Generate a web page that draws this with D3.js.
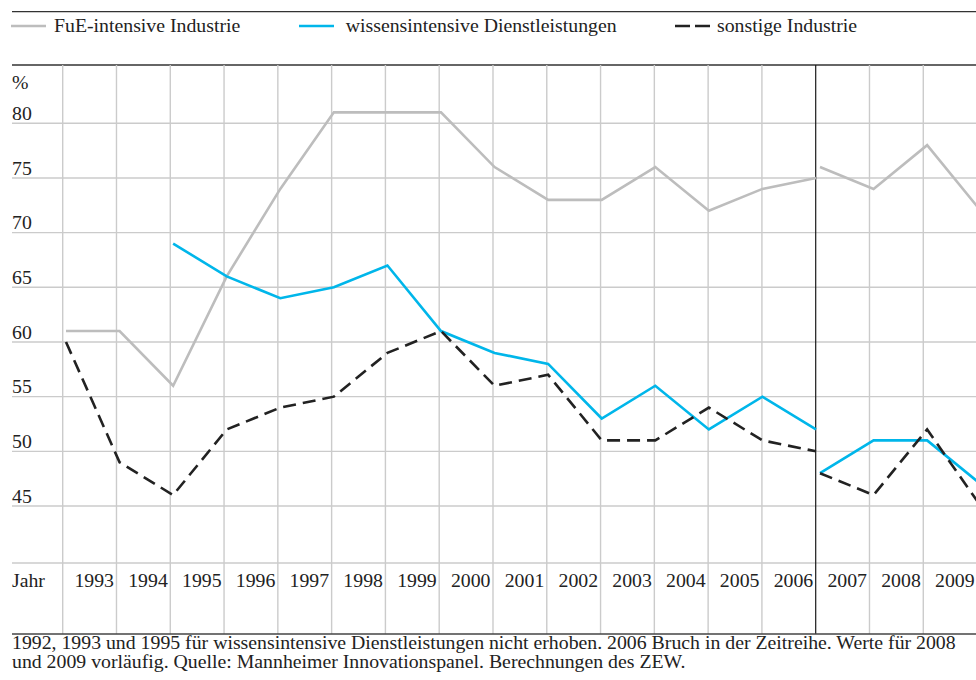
<!DOCTYPE html>
<html><head><meta charset="utf-8">
<script src="https://cdn.jsdelivr.net/npm/d3@7"></script>
<style>
html,body{margin:0;padding:0;background:#fff;}
svg{display:block;}
text{font-family:"Liberation Serif","Times New Roman",serif;fill:#222;}
</style></head>
<body>
<svg id="chart" width="976" height="680"></svg>
<script>
// ---- data ----
const years = [1992,1993,1994,1995,1996,1997,1998,1999,2000,2001,2002,2003,2004,2005,2006];
const yearsNew = [2006,2007,2008,2009];
const yearLabels = [1993,1994,1995,1996,1997,1998,1999,2000,2001,2002,2003,2004,2005,2006,2007,2008,2009];
const yTicks = [45,50,55,60,65,70,75,80];
const fueOld = [61,61,56,66,74,81,81,81,76,73,73,76,72,74,75];
const fueNew = [76,74,78,72];
const wissOld = [null,null,69,66,64,65,67,61,59,58,53,56,52,55,52];
const wissNew = [48,51,51,47];
const sonstOld = [60,49,46,52,54,55,59,61,56,57,51,51,54,51,50];
const sonstNew = [48,46,52,45];
const seriesNames = ["FuE-intensive Industrie","wissensintensive Dienstleistungen","sonstige Industrie"];
const footnote = ["1992, 1993 und 1995 für wissensintensive Dienstleistungen nicht erhoben. 2006 Bruch in der Zeitreihe. Werte für 2008",
                  "und 2009 vorläufig. Quelle: Mannheimer Innovationspanel. Berechnungen des ZEW."];

// ---- layout ----
const svg = d3.select("#chart");
const FS = 18, SX = 1.1;
const L = 12, R = 976, plotTop = 65, rowTop = 563, rowBottom = 634;
const gridX = d3.scaleLinear().domain([1992,2006]).range([62.7,815.7]);
const ptX = d3.scaleLinear().domain([1992,2006]).range([66,816]);
const y = d3.scaleLinear().domain([45,80]).range([506,123.3]);
const breakYear = 2006;
const gridColor = "#cbcbcb";

function addText(x, yy, str, anchor){
  return svg.append("text")
    .attr("transform",`translate(${x},${yy}) scale(${SX},1)`)
    .attr("font-size",FS).attr("text-anchor",anchor||"start").text(str);
}

// top rules
svg.append("line").attr("x1",L).attr("x2",R).attr("y1",11.7).attr("y2",11.7).attr("stroke","#333").attr("stroke-width",1.3);
svg.append("line").attr("x1",L).attr("x2",R).attr("y1",plotTop).attr("y2",plotTop).attr("stroke","#333").attr("stroke-width",1.3);

// legend
const colors = ["#bdbdbd","#00b6ea","#222"];
const legX = [11,299,675];
const legTextX = [54,345.7,717];
seriesNames.forEach((n,i)=>{
  const ln = svg.append("line").attr("x1",legX[i]).attr("x2",legX[i]+35).attr("y1",26).attr("y2",26)
    .attr("stroke",colors[i]).attr("stroke-width",2.6);
  if(i===2) ln.attr("stroke-dasharray","15,5");
  addText(legTextX[i],31.5,n);
});

// horizontal grid
yTicks.forEach(t=>{
  svg.append("line").attr("x1",L).attr("x2",R).attr("y1",y(t)).attr("y2",y(t)).attr("stroke",gridColor).attr("stroke-width",1.4);
  addText(L,y(t)-3.3,t);
});
addText(L,89,"%");
svg.append("line").attr("x1",L).attr("x2",R).attr("y1",rowTop).attr("y2",rowTop).attr("stroke",gridColor).attr("stroke-width",1.4);

// vertical grid
d3.range(1992,2011).forEach(yr=>{
  if(yr===breakYear) return;
  svg.append("line").attr("x1",gridX(yr)).attr("x2",gridX(yr)).attr("y1",plotTop).attr("y2",rowBottom)
    .attr("stroke",gridColor).attr("stroke-width",1.4);
});
svg.append("line").attr("x1",gridX(breakYear)).attr("x2",gridX(breakYear)).attr("y1",plotTop).attr("y2",rowBottom)
  .attr("stroke","#1a1a1a").attr("stroke-width",1.2);
svg.append("line").attr("x1",L).attr("x2",R).attr("y1",rowBottom).attr("y2",rowBottom).attr("stroke","#444").attr("stroke-width",1.4);

// year row
addText(L,587,"Jahr");
yearLabels.forEach(yr=>{
  addText(gridX(yr) - 2.5, 587, yr, "end");
});

// lines
const lineOld = d3.line().defined(d=>d[1]!=null).x(d=>ptX(d[0])).y(d=>y(d[1]));
const lineNew = d3.line().x(d=>ptX(d[0])+4).y(d=>y(d[1]));
const groups = [[fueOld,fueNew],[wissOld,wissNew],[sonstOld,sonstNew]];
groups.forEach((g,i)=>{
  const a = years.map((yr,k)=>[yr,g[0][k]]);
  const b = yearsNew.map((yr,k)=>[yr,g[1][k]]);
  [svg.append("path").attr("d",lineOld(a)), svg.append("path").attr("d",lineNew(b))].forEach(p=>{
    p.attr("fill","none").attr("stroke",colors[i]).attr("stroke-width",2.6).attr("stroke-linejoin","miter");
    if(i===2) p.attr("stroke-dasharray","13,7");
  });
});

// footnote
footnote.forEach((t,k)=>{
  addText(L,648.5+k*19.5,t);
});
</script>
</body></html>
